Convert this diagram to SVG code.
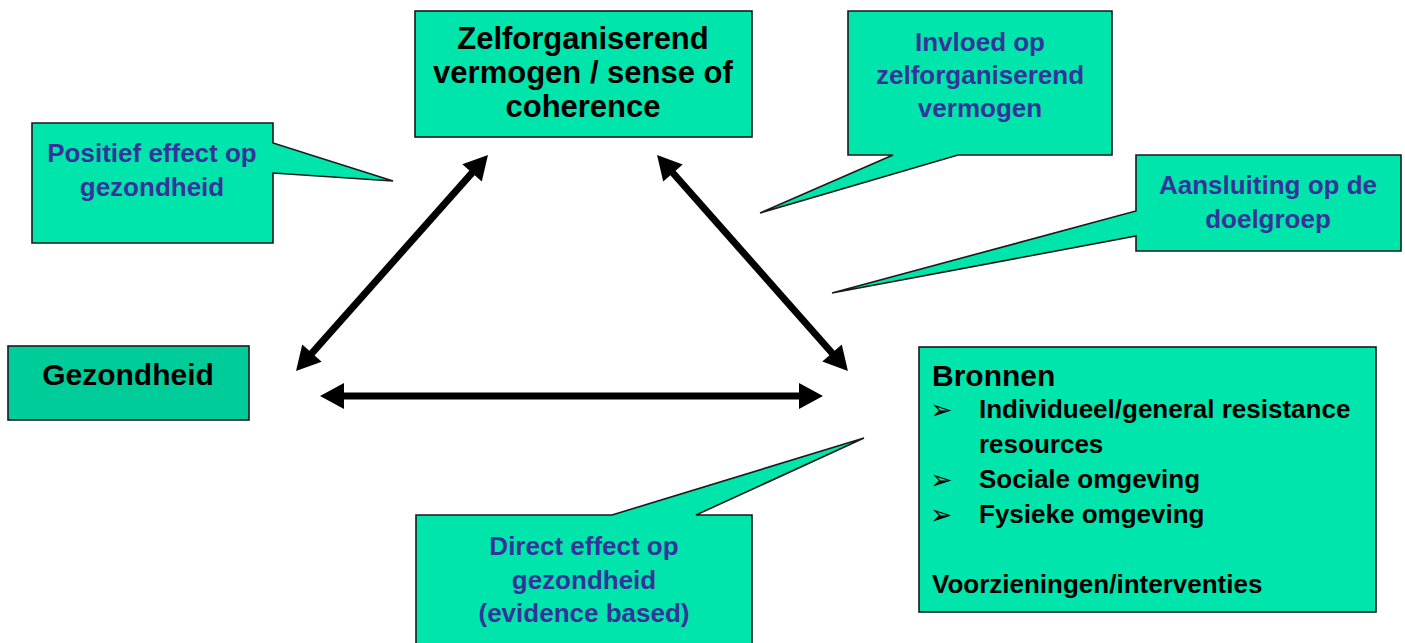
<svg xmlns="http://www.w3.org/2000/svg" width="1405" height="643" viewBox="0 0 1405 643">
<style>
.box{fill:#00E5AB;stroke:#1a1a1a;stroke-width:1.6;stroke-linejoin:miter}
.dark{fill:#00CC99}
.t{font-family:"Liberation Sans",Arial,sans-serif;font-weight:bold;fill:#000}
.c{font-family:"Liberation Sans",Arial,sans-serif;font-weight:bold;fill:#333399;font-size:26px;text-anchor:middle}
.b{font-family:"DejaVu Sans",sans-serif;font-size:27px;fill:#000}
.arr{fill:none;stroke:#000;stroke-width:7;marker-start:url(#ah);marker-end:url(#ah)}
</style>
<defs>
<marker id="ah" markerUnits="userSpaceOnUse" markerWidth="26" markerHeight="26" viewBox="0 0 24 26" refX="4" refY="13" orient="auto-start-reverse">
<path d="M0,0 L24,13 L0,26 z" fill="#000"/>
</marker>
</defs>
<rect width="1405" height="643" fill="#fff"/>
<g id="connectors">
<path class="arr" d="M309.3,356.1 L474.7,169.9"/>
<path class="arr" d="M670.3,170 L834.7,356"/>
<path class="arr" d="M340,396 L803,396"/>
</g>
<g id="node-zelf">
<rect class="box" x="415" y="11" width="337" height="126"/>
<text class="t" font-size="31" text-anchor="middle"><tspan x="583" y="49">Zelforganiserend</tspan><tspan x="583" y="83">vermogen / sense of</tspan><tspan x="583" y="117">coherence</tspan></text>
</g>
<g id="node-gezondheid">
<rect class="box dark" x="8" y="346" width="241" height="74"/>
<text class="t" font-size="30" text-anchor="middle" x="128" y="385">Gezondheid</text>
</g>
<g id="node-bronnen">
<rect class="box" x="919" y="347" width="457" height="265"/>
<text class="t" font-size="30" x="932" y="386">Bronnen</text>
<text class="b" x="930" y="419">➢</text>
<text class="b" x="930" y="489">➢</text>
<text class="b" x="930" y="524">➢</text>
<text class="t" font-size="26"><tspan x="979" y="418">Individueel/general resistance</tspan><tspan x="979" y="453">resources</tspan><tspan x="979" y="488">Sociale omgeving</tspan><tspan x="979" y="523">Fysieke omgeving</tspan><tspan x="932" y="593">Voorzieningen/interventies</tspan></text>
</g>
<g id="callout-positief">
<polygon class="box" points="32,123 273,123 273,143 393,181 273,173 273,243 32,243"/>
<text class="c"><tspan x="152" y="162">Positief effect op</tspan><tspan x="152" y="196">gezondheid</tspan></text>
</g>
<g id="callout-invloed">
<polygon class="box" points="848,11 1112,11 1112,155 958,155 760,213 893,155 848,155"/>
<text class="c"><tspan x="980" y="51">Invloed op</tspan><tspan x="980" y="84">zelforganiserend</tspan><tspan x="980" y="117">vermogen</tspan></text>
</g>
<g id="callout-aansluiting">
<polygon class="box" points="1136,155 1401,155 1401,251 1136,251 1136,236 832,293 1136,211"/>
<text class="c"><tspan x="1268" y="194">Aansluiting op de</tspan><tspan x="1268" y="228">doelgroep</tspan></text>
</g>
<g id="callout-direct">
<polygon class="box" points="416,515 612,515 864,438 696,515 752,515 752,650 416,650"/>
<text class="c"><tspan x="584" y="555">Direct effect op</tspan><tspan x="584" y="589">gezondheid</tspan><tspan x="584" y="622">(evidence based)</tspan></text>
</g>
</svg>
